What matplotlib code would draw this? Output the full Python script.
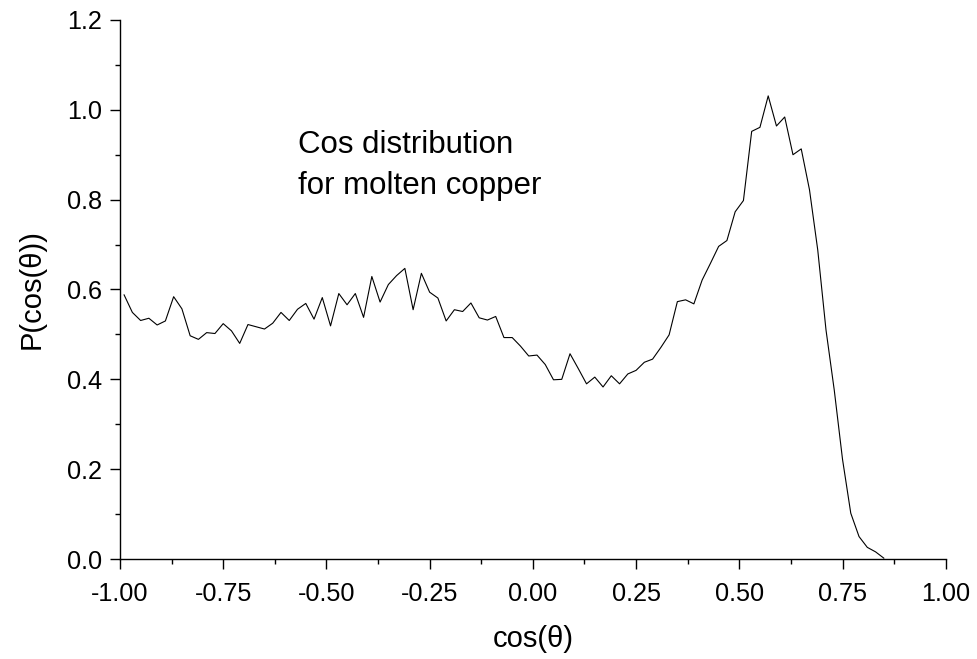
import numpy as np
import matplotlib
matplotlib.use("Agg")
import matplotlib.pyplot as plt
from matplotlib.ticker import MultipleLocator, FormatStrFormatter

plt.rcParams['font.family'] = ['Liberation Sans', 'DejaVu Sans']
plt.rcParams['axes.unicode_minus'] = False

# bin centres of the cos(theta) histogram, step 0.02
cos_theta = np.round(np.arange(-0.99, 0.86, 0.02), 2)
p_cos = [
    0.588, 0.549, 0.531, 0.536, 0.521, 0.530, 0.584, 0.557, 0.497, 0.489,
    0.504, 0.502, 0.524, 0.508, 0.480, 0.522, 0.517, 0.512, 0.525, 0.549,
    0.531, 0.556, 0.569, 0.534, 0.582, 0.519, 0.591, 0.566, 0.591, 0.538,
    0.629, 0.572, 0.611, 0.631, 0.647, 0.555, 0.636, 0.594, 0.581, 0.530,
    0.555, 0.551, 0.570, 0.537, 0.532, 0.540, 0.493, 0.493, 0.474, 0.452,
    0.454, 0.433, 0.399, 0.400, 0.457, 0.424, 0.390, 0.405, 0.383, 0.408,
    0.390, 0.412, 0.420, 0.438, 0.445, 0.471, 0.499, 0.573, 0.577, 0.568,
    0.621, 0.658, 0.696, 0.709, 0.773, 0.798, 0.952, 0.961, 1.031, 0.964,
    0.984, 0.900, 0.913, 0.822, 0.688, 0.510, 0.376, 0.222, 0.102, 0.050,
    0.026, 0.016, 0.002,
]

fig = plt.figure(figsize=(9.77, 6.59), dpi=100)
ax = fig.add_axes([0.1228, 0.1517, 0.968 - 0.1228, 0.9697 - 0.1517])

ax.plot(cos_theta, p_cos, color='black', lw=0.8)

ax.set_xlim(-1.0, 1.0)
ax.set_ylim(0.0, 1.2)
ax.xaxis.set_major_locator(MultipleLocator(0.25))
ax.xaxis.set_minor_locator(MultipleLocator(0.125))
ax.yaxis.set_major_locator(MultipleLocator(0.2))
ax.yaxis.set_minor_locator(MultipleLocator(0.1))
ax.xaxis.set_major_formatter(FormatStrFormatter('%.2f'))
ax.yaxis.set_major_formatter(FormatStrFormatter('%.1f'))

for s in ['top', 'right']:
    ax.spines[s].set_visible(False)
for s in ['left', 'bottom']:
    ax.spines[s].set_linewidth(1.0)

ax.tick_params(which='major', direction='out', length=7.2, width=1.0,
               labelsize=18.2)
ax.tick_params(axis='x', which='major', pad=9)
ax.tick_params(axis='y', which='major', pad=6)
ax.tick_params(which='minor', direction='out', length=3.6, width=1.0)

ax.set_xlabel(u'cos(\u03b8)', fontsize=21, labelpad=14)
ax.set_ylabel(u'P(cos(\u03b8))', fontsize=21, labelpad=15)

ax.text(-0.568, 0.904, 'Cos distribution', fontsize=22.5, va='baseline')
ax.text(-0.568, 0.813, 'for molten copper', fontsize=22.5, va='baseline')

fig.savefig('out.png', dpi=100)
